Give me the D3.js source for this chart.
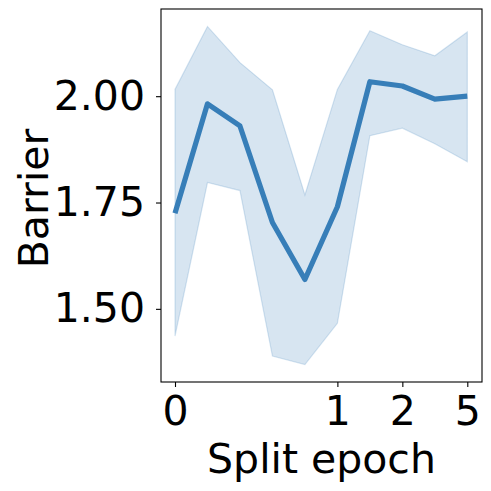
<!DOCTYPE html>
<html lang="en">
<head>
  <meta charset="utf-8">
  <title>Barrier vs split epoch</title>
  <style>
    body { margin: 0; background: #fff; }
    text { font-family: "DejaVu Sans", sans-serif; fill: #000; }
  </style>
</head>
<body>
  <script src="https://cdnjs.cloudflare.com/ajax/libs/d3/7.8.5/d3.min.js"></script>
  <script>
  // data (x is the position index of each split epoch)
  const steps = [0, 1, 2, 3, 4, 5, 6, 7, 8, 9];
  const meanVals = [1.725, 1.982, 1.930, 1.703, 1.569, 1.740, 2.034, 2.024, 1.993, 2.000];
  const upperVals = [2.016, 2.164, 2.079, 2.015, 1.768, 2.016, 2.154, 2.121, 2.095, 2.151];
  const lowerVals = [1.436, 1.797, 1.778, 1.389, 1.369, 1.466, 1.907, 1.925, 1.888, 1.846];
  const xTickPos = [0, 5, 7, 9];
  const xTickLabels = ["0", "1", "2", "5"];
  const yTicks = [1.5, 1.75, 2.0];

  const W = 491, H = 491;
  const frame = { left: 161, right: 482, top: 9, bottom: 382 };
  const color = "#377eb8";
  const fontSize = 41;

  const svg = d3.select("body")
    .append("svg")
    .attr("width", W)
    .attr("height", H);

  const x = d3.scaleLinear()
    .domain([0, 9])
    .range([175, 467.3]);

  const y = d3.scaleLinear()
    .domain([1.328, 2.205])
    .range([frame.bottom, frame.top]);

  const rows = steps.map((s, i) => ({ s, m: meanVals[i], lo: lowerVals[i], hi: upperVals[i] }));

  // confidence band
  svg.append("path")
    .datum(rows)
    .attr("d", d3.area().x(d => x(d.s)).y0(d => y(d.lo)).y1(d => y(d.hi)))
    .attr("fill", color)
    .attr("fill-opacity", 0.2)
    .attr("stroke", color)
    .attr("stroke-opacity", 0.2)
    .attr("stroke-width", 1.2);

  // mean line
  svg.append("path")
    .datum(rows)
    .attr("d", d3.line().x(d => x(d.s)).y(d => y(d.m)))
    .attr("fill", "none")
    .attr("stroke", color)
    .attr("stroke-width", 5.2)
    .attr("stroke-linejoin", "round");

  // frame
  svg.append("rect")
    .attr("x", frame.left)
    .attr("y", frame.top)
    .attr("width", frame.right - frame.left)
    .attr("height", frame.bottom - frame.top)
    .attr("fill", "none")
    .attr("stroke", "#000")
    .attr("stroke-width", 1.1);

  // x axis
  const xAxis = svg.append("g")
    .attr("transform", `translate(0, ${frame.bottom})`)
    .call(d3.axisBottom(x)
      .tickValues(xTickPos)
      .tickFormat((d, i) => xTickLabels[i])
      .tickSize(5)
      .tickPadding(9));
  xAxis.select(".domain").remove();
  xAxis.selectAll("line").attr("stroke", "#000").attr("stroke-width", 1.1);
  xAxis.selectAll("text")
    .attr("font-size", fontSize)
    .attr("font-family", "DejaVu Sans")
    .attr("fill", "#000");

  // y axis
  const yAxis = svg.append("g")
    .attr("transform", `translate(${frame.left}, 0)`)
    .call(d3.axisLeft(y)
      .tickValues(yTicks)
      .tickFormat(d3.format(".2f"))
      .tickSize(5)
      .tickPadding(11));
  yAxis.select(".domain").remove();
  yAxis.selectAll("line").attr("stroke", "#000").attr("stroke-width", 1.1);
  yAxis.selectAll("text")
    .attr("font-size", fontSize)
    .attr("font-family", "DejaVu Sans")
    .attr("fill", "#000");

  // axis titles
  svg.append("text")
    .attr("x", (frame.left + frame.right) / 2)
    .attr("y", 473)
    .attr("text-anchor", "middle")
    .attr("font-size", fontSize)
    .text("Split epoch");

  svg.append("text")
    .attr("transform", `translate(48, ${(frame.top + frame.bottom) / 2 + 3}) rotate(-90)`)
    .attr("text-anchor", "middle")
    .attr("font-size", fontSize)
    .text("Barrier");
  </script>
</body>
</html>
